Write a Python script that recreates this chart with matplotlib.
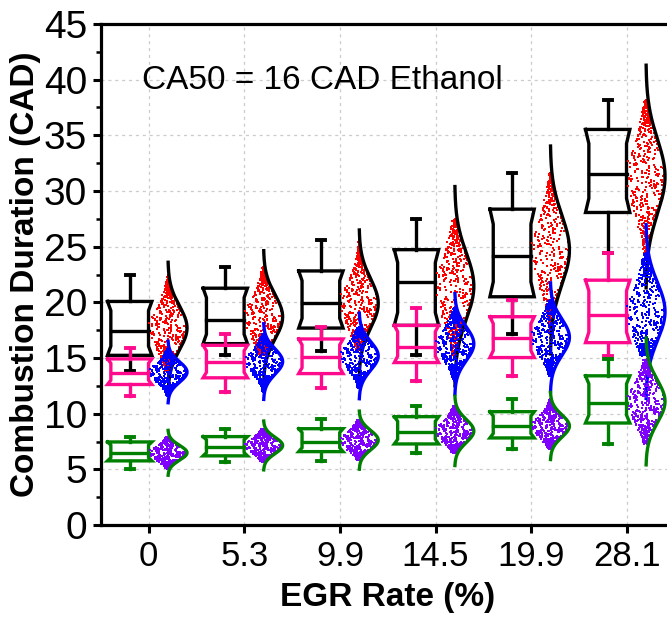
import numpy as np
import matplotlib
matplotlib.use('Agg')
import matplotlib.pyplot as plt
from matplotlib.ticker import MultipleLocator

plt.rcParams['font.family'] = ['Liberation Sans', 'DejaVu Sans']

# ---------------- data ----------------
egr_labels = ['0', '5.3', '9.9', '14.5', '19.9', '28.1']

# black boxes / red points / black distribution curve
blk_whi = [22.43, 23.21, 25.60, 27.47, 31.65, 38.15]
blk_q3 = [20.08, 21.27, 22.82, 24.73, 28.37, 35.53]
blk_med = [17.45, 18.38, 19.93, 21.81, 24.13, 31.53]
blk_q1 = [15.24, 16.29, 17.69, 17.93, 20.50, 28.07]
blk_wlo = [13.81, 15.27, 15.66, 15.25, 17.18, 24.43]
blk_curve_top = [23.6, 24.64, 26.5, 30.4, 34.04, 41.3]
blk_curve_bot = [11.8, 12.76, 13.3, 12.5, 15.36, 21.3]

# magenta boxes / blue points / blue distribution curve
mag_whi = [15.90, 17.18, 17.78, 19.51, 20.20, 24.43]
mag_q3 = [14.92, 16.14, 16.71, 17.93, 18.71, 21.99]
mag_med = [13.66, 14.65, 15.10, 16.02, 16.77, 18.82]
mag_q1 = [12.62, 13.22, 13.60, 14.59, 15.04, 16.38]
mag_wlo = [11.57, 11.96, 12.32, 12.95, 13.40, 15.19]
mag_curve_top = [16.5, 18.08, 19.03, 20.79, 21.75, 26.97]
mag_curve_bot = [10.98, 11.28, 11.34, 11.76, 11.97, 11.37]

# green boxes / violet points / green distribution curve
grn_whi = [7.91, 8.65, 9.49, 10.71, 11.31, 14.89]
grn_q3 = [7.46, 7.94, 8.65, 9.73, 10.18, 13.40]
grn_med = [6.44, 7.04, 7.49, 8.33, 8.92, 10.92]
grn_q1 = [5.76, 6.21, 6.59, 7.28, 7.82, 9.16]
grn_wlo = [5.01, 5.67, 5.79, 6.48, 6.84, 7.28]
grn_curve_top = [8.5, 9.34, 10.23, 11.55, 11.9, 16.8]
grn_curve_bot = [4.47, 4.95, 5.01, 5.34, 5.88, 5.4]

series = [
    dict(whi=blk_whi, q3=blk_q3, med=blk_med, q1=blk_q1, wlo=blk_wlo,
         ctop=blk_curve_top, cbot=blk_curve_bot,
         box='#000000', pts='#ff0000', curve='#000000'),
    dict(whi=mag_whi, q3=mag_q3, med=mag_med, q1=mag_q1, wlo=mag_wlo,
         ctop=mag_curve_top, cbot=mag_curve_bot,
         box='#ff0a8c', pts='#0000ff', curve='#0000ff'),
    dict(whi=grn_whi, q3=grn_q3, med=grn_med, q1=grn_q1, wlo=grn_wlo,
         ctop=grn_curve_top, cbot=grn_curve_bot,
         box='#008000', pts='#8000ff', curve='#008000'),
]

# ---------------- figure ----------------
fig = plt.figure(figsize=(6.67, 6.17), dpi=100)
ax = fig.add_axes([101 / 667, 92 / 617, 573.6 / 667, 501 / 617])

box_off = -0.20
box_hw = 0.232
indent = 0.035
cap_hw = 0.042
base_off = 0.20
amp = 0.20
N = 450
nn = np.arange(N)
seq_p = (nn + 0.5) / N
seq_u = (np.sin(nn * 12.9898 + 78.233) * 43758.5453) % 1.0

for k, s in enumerate(series):
    z = 3 + 3 * k
    for i in range(len(egr_labels)):
        c = i + box_off
        q1, q3, med = s['q1'][i], s['q3'][i], s['med'][i]
        sl = 0.17 * (q3 - q1)
        bx = [c - box_hw, c + box_hw, c + box_hw - indent, c + box_hw - indent,
              c + box_hw, c - box_hw, c - box_hw + indent, c - box_hw + indent, c - box_hw]
        by = [q3, q3, q3 - sl, q1 + sl, q1, q1, q1 + sl, q3 - sl, q3]
        lw = 2.4
        ax.plot(bx, by, color=s['box'], lw=lw, zorder=z, solid_joinstyle='miter')
        ax.plot([c - box_hw + indent, c + box_hw - indent], [med, med],
                color=s['box'], lw=lw, zorder=z)
        ax.plot([c, c], [q3, s['whi'][i]], color=s['box'], lw=lw, zorder=z)
        ax.plot([c, c], [q1, s['wlo'][i]], color=s['box'], lw=lw, zorder=z)
        ax.plot([c - cap_hw, c + cap_hw], [s['whi'][i]] * 2, color=s['box'], lw=2.8, zorder=z)
        ax.plot([c - cap_hw, c + cap_hw], [s['wlo'][i]] * 2, color=s['box'], lw=2.8, zorder=z)

        # data points, spread by the distribution curve
        top, bot = s['ctop'][i], s['cbot'][i]
        mu = 0.5 * (top + bot)
        sd = (top - bot) / 6.0
        yv = np.interp(seq_p, [0, 0.25, 0.5, 0.75, 1.0],
                       [s['wlo'][i], q1, med, q3, s['whi'][i]])
        wv = amp * np.exp(-(yv - mu) ** 2 / (2 * sd ** 2))
        xv = i + base_off + (2 * seq_u - 1) * wv
        ax.scatter(xv, yv, s=3.2, marker='s', color=s['pts'], linewidths=0,
                   zorder=z + 1)

        yy = np.linspace(bot, top, 200)
        xx = i + base_off + amp * np.exp(-(yy - mu) ** 2 / (2 * sd ** 2))
        ax.plot(xx, yy, color=s['curve'], lw=2.4, zorder=z + 2)

ax.text(-0.073, 39.16, 'CA50 = 16 CAD Ethanol', fontsize=24, ha='left',
        va='baseline', zorder=20)

ax.set_xlim(-0.5, 5.5)
ax.set_ylim(0, 45)
ax.set_xticks(range(len(egr_labels)))
ax.set_xticklabels(egr_labels)
ax.yaxis.set_major_locator(MultipleLocator(5))
ax.yaxis.set_minor_locator(MultipleLocator(2.5))
ax.tick_params(axis='both', which='major', direction='out', length=6, width=2.2, pad=4)
ax.tick_params(axis='y', which='major', labelsize=28)
ax.tick_params(axis='x', which='major', labelsize=25, pad=5)
ax.tick_params(axis='y', which='minor', direction='out', length=3.5, width=1.8)
ax.tick_params(axis='x', which='minor', bottom=False)

ax.grid(True, which='major', ls=(0, (2.5, 3)), color='#cccccc', lw=0.9)
ax.set_axisbelow(True)
for sp in ['left', 'bottom', 'top']:
    ax.spines[sp].set_linewidth(2.3)
ax.spines['right'].set_visible(False)

ax.set_xlabel('EGR Rate (%)', fontsize=24, fontweight='bold', labelpad=6)
ax.set_ylabel('Combustion Duration (CAD)', fontsize=24, fontweight='bold', labelpad=2)

fig.savefig('out.png', dpi=100)
